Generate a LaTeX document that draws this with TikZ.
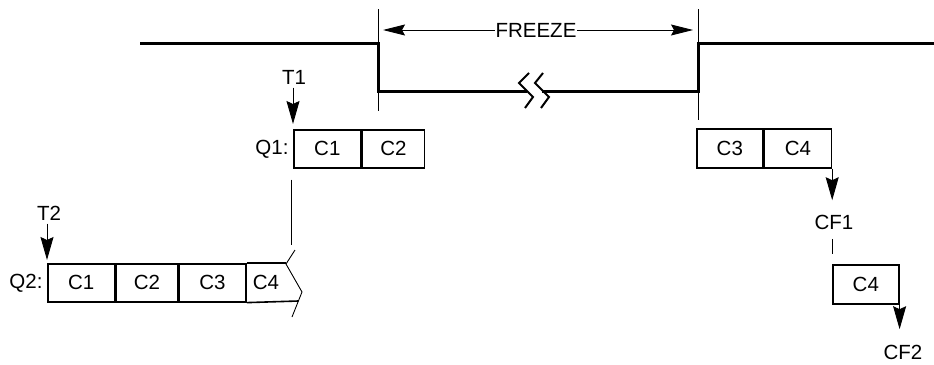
\documentclass[tikz,border=0pt]{standalone}
\usepackage{fontspec}
\setmainfont{Liberation Sans}
\usetikzlibrary{arrows.meta,positioning}

\begin{document}
\begin{tikzpicture}[x=1pt,y=-1pt,
  every node/.style={font=\fontsize{20.5}{24}\selectfont},
  signal/.style={line width=3pt},
  thin line/.style={line width=0.9pt},
  arr/.style={line width=0.9pt,-{Stealth[length=23pt,width=13pt,inset=3pt]}},
  cell/.style={draw,line width=1.6pt,inner sep=0pt,minimum height=38pt,anchor=north west}]
\useasboundingbox (0,0) rectangle (934,364);

% signal level
\draw[signal] (140,43) -- (378,43) -- (378,91) -- (527,91);
\draw[signal] (542,91) -- (698,91) -- (698,43) -- (934,43);
\draw[line width=2pt] (529,73) -- (519,83) -- (533,97) -- (525,108);
\draw[line width=2pt] (543,73) -- (535,83) -- (549,97) -- (541,108);

% freeze window
\coordinate (fzl) at (378,9);
\coordinate (fzr) at (698,9);
\draw[thin line] (fzl) -- ++(0,102);
\draw[thin line] (fzr) -- ++(0,111);
\draw[thin line,{Stealth[length=22pt,width=11pt,inset=3pt]}-{Stealth[length=22pt,width=11pt,inset=3pt]}]
  ([xshift=5pt,yshift=-21pt]fzl) -- ([xshift=-5pt,yshift=-21pt]fzr);
\node[fill=white,inner sep=1pt] (freeze) at (536,30) {FREEZE};

% Q1
\node[cell,minimum width=67pt] (q1a) at (293,129) {C1};
\node[cell,minimum width=62pt] (q1b) at (q1a.north east) {C2};
\node[left=1pt of q1a] (q1) {Q1:};
\node (t1) at (294,77) {T1};
\draw[arr] (t1.south -| q1a.north west) -- ([yshift=5pt]q1a.north west);
\draw[thin line] ([xshift=-2pt,yshift=-11pt]q1a.south west) -- ++(0,65);

% Q2
\node[cell,minimum width=67pt] (q2a) at (47,263) {C1};
\node[cell,minimum width=61pt] (q2b) at (q2a.north east) {C2};
\node[cell,minimum width=67pt] (q2c) at (q2b.north east) {C3};
\node (q2d) at (266,282) {C4};
\draw[line width=1.6pt] (q2c.north east) -- (286,263);
\draw[line width=1.6pt] (q2c.south east) -- (298.4,301);
\draw[thin line] (295,250) -- (286,264) -- (302,292) -- (292,317);
\node[left=1pt of q2a] (q2) {Q2:};
\node (t2) at (49,213) {T2};
\draw[arr] (t2.south -| q2a.north west) -- ([yshift=3pt]q2a.north west);

% after freeze
\node[cell,minimum width=66pt,minimum height=39pt] (r3) at (696,128) {C3};
\node[cell,minimum width=67pt,minimum height=39pt] (r4) at (r3.north east) {C4};
\node (cf1) at (834,222) {CF1};
\draw[arr] (r4.south east) -- ([yshift=11pt]cf1.north -| r4.south east);
\node[cell,minimum width=66pt,minimum height=39pt] (f4) at (832,264) {C4};
\draw[thin line] ([yshift=-6pt]cf1.south -| f4.north west) -- ([yshift=10pt]f4.north west);
\node (cf2) at (903,352) {CF2};
\draw[arr] (f4.south east) -- ([yshift=12pt]cf2.north -| f4.south east);
\end{tikzpicture}
\end{document}
